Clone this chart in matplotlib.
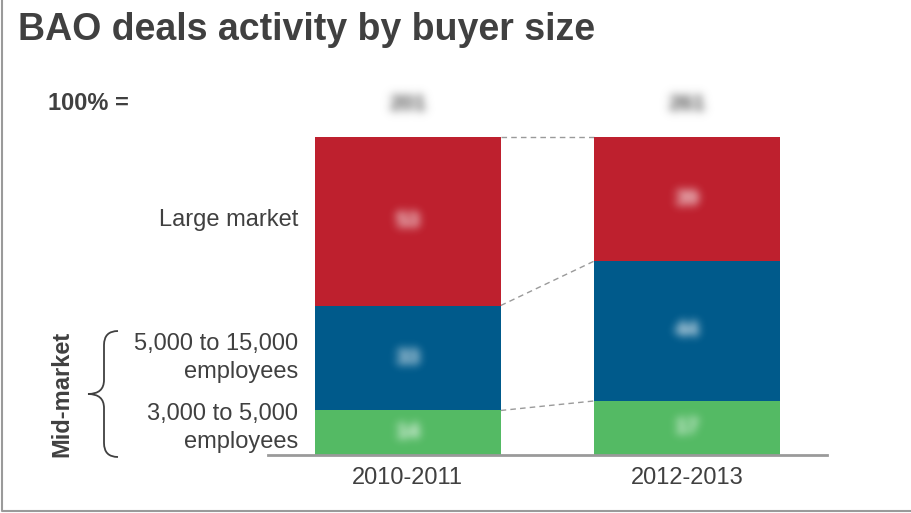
import matplotlib

matplotlib.use("Agg")
import matplotlib.pyplot as plt
import numpy as np
from matplotlib.lines import Line2D
from matplotlib.patches import PathPatch
from matplotlib.path import Path
from matplotlib.transforms import Affine2D

plt.rcParams["font.family"] = ["Liberation Sans", "DejaVu Sans"]

periods = ["2010-2011", "2012-2013"]
segment_labels = ["3,000 to 5,000\nemployees", "5,000 to 15,000\nemployees", "Large market"]
small_mid = [14, 17]   # 3,000 to 5,000 employees, % of deals
large_mid = [33, 44]   # 5,000 to 15,000 employees
large = [53, 39]       # large market
totals = [201, 261]    # deal counts (100% =)

COLORS = ["#54BA64", "#005A8B", "#BE202E"]
TEXT = "#404040"
GRID = "#9A9A9A"
W, H = 912, 513


def blur(sigma, color, alpha=1.0):
    """agg_filter that softens a text artist into a blurred blob."""
    r = int(3 * sigma)
    k = np.exp(-0.5 * (np.arange(-r, r + 1) / sigma) ** 2)
    k /= k.sum()

    def filt(img, dpi):
        img = np.pad(img, ((r, r), (r, r), (0, 0)))
        a = img[..., 3]
        a = np.apply_along_axis(lambda m: np.convolve(m, k, mode="same"), 0, a)
        a = np.apply_along_axis(lambda m: np.convolve(m, k, mode="same"), 1, a)
        out = np.empty_like(img)
        out[..., :3] = matplotlib.colors.to_rgb(color)
        out[..., 3] = np.clip(a * alpha, 0, 1)
        return out, -r, -r

    return filt


fig = plt.figure(figsize=(W / 100, H / 100), dpi=100)
# pixel coordinates measured from the top-left corner
px = Affine2D().scale(1 / W, -1 / H).translate(0, 1) + fig.transFigure

ax = fig.add_axes([268 / W, 58 / H, 559 / W, 318 / H])
ax.set_xlim(-0.5, 1.5)
ax.set_ylim(0, 100)

x = np.arange(len(periods))
width = 0.665
bottom = np.zeros(len(periods))
levels = []
for vals, color in zip([small_mid, large_mid, large], COLORS):
    vals = np.array(vals, dtype=float)
    ax.bar(x, vals, width=width, bottom=bottom, color=color, linewidth=0, zorder=2)
    for xi, b, v in zip(x, bottom, vals):
        t = ax.text(xi, b + v / 2, f"{v:.0f}", ha="center", va="center",
                    fontsize=16, fontweight="bold", color="white")
        t.set_agg_filter(blur(4.5, "white", 1.0))
    bottom = bottom + vals
    levels.append(bottom.copy())

# dashed connectors between segment boundaries
for lv in levels:
    ax.plot([x[0] + width / 2, x[1] - width / 2], lv, color=GRID,
            linestyle=(0, (4, 3)), linewidth=1, zorder=1, clip_on=False)

for s in ["top", "left", "right"]:
    ax.spines[s].set_visible(False)
ax.spines["bottom"].set_color(GRID)
ax.spines["bottom"].set_linewidth(2)
ax.set_yticks([])
ax.set_xticks(x)
ax.set_xticklabels(periods, fontsize=17, color=TEXT)
ax.tick_params(axis="x", length=0, pad=9)

# totals row
fig.text(48, 104, "100% =", transform=px, fontsize=17, fontweight="bold",
         color=TEXT, ha="left", va="center")
for xi, tot in zip(x, totals):
    t = ax.text(xi, (H - 104 - 58) / 318, f"{tot}", transform=ax.get_xaxis_transform(),
                fontsize=16, fontweight="bold", color="#999999",
                ha="center", va="center", clip_on=False)
    t.set_agg_filter(blur(4.5, "#9C9C9C", 1.8))

# segment labels on the left
fig.text(298, 220, segment_labels[2], transform=px, fontsize=17, color=TEXT,
         ha="right", va="center")
fig.text(298, 358, segment_labels[1], transform=px, fontsize=17, color=TEXT,
         ha="right", va="center", multialignment="right", linespacing=1.32)
fig.text(298, 428, segment_labels[0], transform=px, fontsize=17, color=TEXT,
         ha="right", va="center", multialignment="right", linespacing=1.32)

# curly brace grouping the mid-market segments
verts = [
    (118, 331), (104, 331), (104, 345),
    (104, 380),
    (104, 394), (88, 394),
    (104, 394), (104, 408),
    (104, 443),
    (104, 457), (118, 457),
]
codes = [Path.MOVETO, Path.CURVE3, Path.CURVE3, Path.LINETO,
         Path.CURVE3, Path.CURVE3, Path.CURVE3, Path.CURVE3,
         Path.LINETO, Path.CURVE3, Path.CURVE3]
fig.add_artist(PathPatch(Path(verts, codes), transform=px, fill=False,
                         edgecolor=TEXT, linewidth=1.3))
fig.text(62, 394, "Mid-market", transform=px, fontsize=17, fontweight="bold",
         color=TEXT, rotation=90, ha="center", va="center")

fig.text(18, 30, "BAO deals activity by buyer size", transform=px, fontsize=27,
         fontweight="bold", color=TEXT, ha="left", va="center")

# frame on the left and bottom edges
fig.add_artist(Line2D([2, 2, W], [0, 511, 511], transform=px, color=GRID,
                      linewidth=1.5))

fig.savefig("out.png", dpi=100)
